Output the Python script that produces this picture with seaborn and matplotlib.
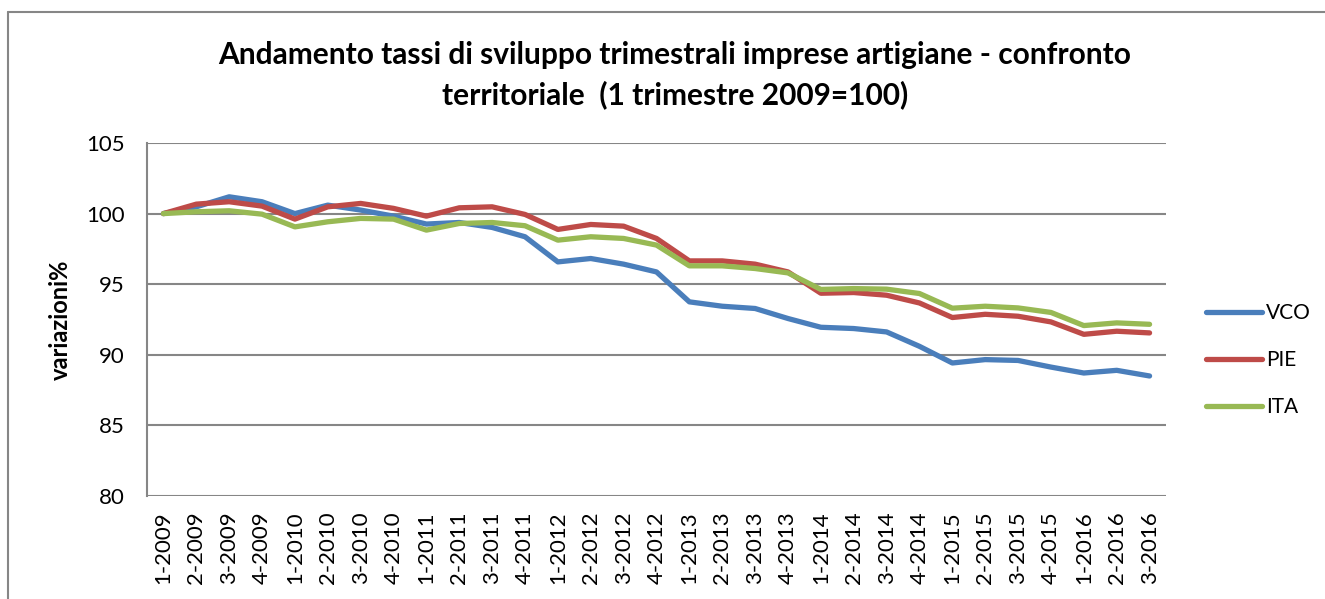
import matplotlib
matplotlib.use("Agg")
import matplotlib.pyplot as plt
import seaborn as sns
import pandas as pd
from matplotlib.lines import Line2D

categories = ["1-2009", "2-2009", "3-2009", "4-2009",
              "1-2010", "2-2010", "3-2010", "4-2010",
              "1-2011", "2-2011", "3-2011", "4-2011",
              "1-2012", "2-2012", "3-2012", "4-2012",
              "1-2013", "2-2013", "3-2013", "4-2013",
              "1-2014", "2-2014", "3-2014", "4-2014",
              "1-2015", "2-2015", "3-2015", "4-2015",
              "1-2016", "2-2016", "3-2016"]

vco = [100.0, 100.48, 101.19, 100.84, 100.0, 100.6, 100.25, 99.82, 99.26, 99.37,
       99.02, 98.36, 96.58, 96.82, 96.42, 95.87, 93.75, 93.44, 93.28, 92.57,
       91.95, 91.86, 91.62, 90.6, 89.42, 89.66, 89.6, 89.13, 88.71, 88.9, 88.5]
pie = [100.0, 100.67, 100.84, 100.53, 99.61, 100.48, 100.72, 100.37, 99.82, 100.41,
       100.48, 99.94, 98.88, 99.23, 99.11, 98.24, 96.65, 96.65, 96.42, 95.87,
       94.36, 94.41, 94.22, 93.67, 92.64, 92.87, 92.73, 92.33, 91.45, 91.67, 91.55]
ita = [100.0, 100.13, 100.2, 99.96, 99.06, 99.42, 99.66, 99.61, 98.83, 99.3,
       99.37, 99.14, 98.12, 98.36, 98.24, 97.77, 96.3, 96.3, 96.11, 95.8,
       94.63, 94.69, 94.65, 94.34, 93.3, 93.44, 93.32, 93.0, 92.07, 92.26, 92.16]

series_names = ["VCO", "PIE", "ITA"]
colors = {"VCO": "#4A7EBB", "PIE": "#BE4B48", "ITA": "#98B954"}

title = "Andamento tassi di sviluppo trimestrali imprese artigiane - confronto\nterritoriale  (1 trimestre 2009=100)"
ylabel = "variazioni%"
yticks = [80, 85, 90, 95, 100, 105]

rows = []
for name, vals in zip(series_names, [vco, pie, ita]):
    for i, v in enumerate(vals):
        rows.append({"idx": i, "value": v, "serie": name})
df = pd.DataFrame(rows)

sns.set_theme(style="white")
plt.rcParams["font.family"] = ["Lato", "DejaVu Sans"]
plt.rcParams["text.color"] = "black"

fig = plt.figure(figsize=(13.25, 5.99), dpi=100)
ax = fig.add_axes([147/1325, (599-496)/599, (1166-147)/1325, (496-143)/599])

sns.lineplot(data=df, x="idx", y="value", hue="serie", palette=colors,
             hue_order=series_names, linewidth=3.8, ax=ax, legend=False,
             solid_capstyle="round")

ax.set_xlim(-0.5, len(categories) - 0.5)
ax.set_ylim(80, 105)
ax.set_yticks(yticks)
ax.set_yticklabels([str(t) for t in yticks], fontsize=16, color="black")
ax.set_xticks(range(len(categories)))
ax.set_xticklabels(categories, rotation=90, fontsize=16, color="black")
ax.tick_params(axis="y", length=0, pad=16)
ax.tick_params(axis="x", length=0, pad=11)
ax.set_xlabel("")
ax.set_ylabel("")
fig.text(60/1325, 1 - 320/599, ylabel, rotation=90, ha="center", va="center",
         fontsize=17, fontweight="bold", color="black")

for t in yticks:
    ax.axhline(t, color="#868686", linewidth=1.5, zorder=0)
for s in ["top", "right", "bottom"]:
    ax.spines[s].set_visible(False)
ax.spines["left"].set_color("#868686")
ax.spines["left"].set_linewidth(1.5)

fig.text(675/1325, 1 - 75/599, title, ha="center", va="center",
         fontsize=21.5, fontweight="bold", linespacing=1.45, color="black")

handles = [Line2D([0], [0], color=colors[n], linewidth=3.8, solid_capstyle="round")
           for n in series_names]
fig.legend(handles, series_names, loc="center left",
           bbox_to_anchor=(1187/1325, 1 - 360/599), frameon=False,
           fontsize=15, handlelength=2.7, handletextpad=0.2, labelspacing=1.3)

# outer chart frame
fig.add_artist(Line2D([8/1325, 1.0], [1 - 12/599, 1 - 12/599], color="#868686",
                      linewidth=1.5, transform=fig.transFigure))
fig.add_artist(Line2D([8/1325, 8/1325], [0, 1 - 12/599], color="#868686",
                      linewidth=1.5, transform=fig.transFigure))

fig.savefig("out.png", dpi=100)
